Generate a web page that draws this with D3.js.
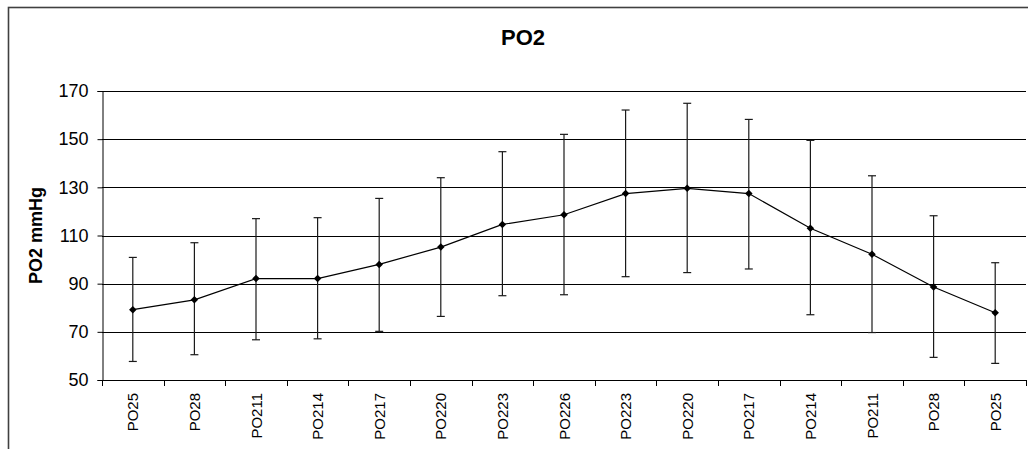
<!DOCTYPE html>
<html>
<head>
<meta charset="utf-8">
<script src="https://cdn.jsdelivr.net/npm/d3@7"></script>
<style>
	body { margin: 0; background: #ffffff; }
	svg { display: block; font-family: "Liberation Sans", Arial, sans-serif; }
</style>
</head>
<body>
<div id="div_id_main"></div>
<script>

var vCategory = ["PO25", "PO28", "PO211", "PO214", "PO217", "PO220", "PO223", "PO226",
				 "PO223", "PO220", "PO217", "PO214", "PO211", "PO28", "PO25"];

var vMean  = [79.2, 83.3, 92.1, 92.1, 98.0, 105.2, 114.6, 118.6, 127.4, 129.6, 127.4, 113.0, 102.2, 88.6, 77.9];
var vUpper = [100.9, 107.0, 117.0, 117.4, 125.4, 134.0, 144.8, 152.0, 162.1, 164.9, 158.2, 149.5, 134.8, 118.2, 98.7];
var vLower = [57.7, 60.5, 66.7, 67.1, 70.2, 76.4, 85.0, 85.4, 92.9, 94.6, 96.1, 77.1, 69.7, 59.4, 56.9];

var vYTicks = [50, 70, 90, 110, 130, 150, 170];

var sTitle = "PO2";
var sYTitle = "PO2 mmHg";

var WIDTH = 1028;
var HEIGHT = 449;

var PLOT_LEFT = 102;
var PLOT_RIGHT = 1026;
var PLOT_TOP = 91;
var PLOT_BOTTOM = 380;

var fScale_X;
var fScale_Y;

function funcDraw_Main() {

	let svgMain = d3.select("#div_id_main")
					.append("svg")
						.attr("width", WIDTH)
						.attr("height", HEIGHT);

	// chart frame (right and bottom edges fall outside the picture)
	svgMain.append("rect")
				.attr("x", 8.5)
				.attr("y", 7.5)
				.attr("width", WIDTH + 20)
				.attr("height", HEIGHT + 20)
				.attr("fill", "#ffffff")
				.attr("stroke", "#404040")
				.attr("stroke-width", 1.6);

	fScale_X = d3.scaleBand()
					.domain(d3.range(vCategory.length))
					.range([PLOT_LEFT, PLOT_RIGHT]);

	fScale_Y = d3.scaleLinear()
					.domain([50, 170])
					.range([PLOT_BOTTOM, PLOT_TOP]);

	funcDraw_Grid(svgMain);
	funcDraw_Axes(svgMain);
	funcDraw_ErrorBars(svgMain);
	funcDraw_Line(svgMain);
	funcDraw_Titles(svgMain);
}

function funcDraw_Grid(svgMain) {

	svgMain.append("g")
				.selectAll("line")
				.data(vYTicks.filter(function (d) { return d > 50; }))
				.enter()
				.append("line")
					.attr("x1", PLOT_LEFT)
					.attr("x2", PLOT_RIGHT)
					.attr("y1", function (d) { return Math.round(fScale_Y(d)) + 0.5; })
					.attr("y2", function (d) { return Math.round(fScale_Y(d)) + 0.5; })
					.attr("stroke", "#000000")
					.attr("stroke-width", 1);
}

function funcDraw_Axes(svgMain) {

	let axisY = d3.axisLeft(fScale_Y)
					.tickValues(vYTicks)
					.tickSize(5)
					.tickPadding(9);

	let gY = svgMain.append("g")
				.attr("transform", "translate(" + (PLOT_LEFT + 0.5) + ",0)")
				.call(axisY);

	gY.select(".domain").attr("stroke", "#000000");
	gY.selectAll(".tick line").attr("stroke", "#000000");
	gY.selectAll(".tick text")
			.attr("font-family", "Liberation Sans, Arial, sans-serif")
			.attr("font-size", "18px")
			.attr("fill", "#000000");

	// category ticks sit on band edges
	let vEdges = d3.range(vCategory.length + 1).map(function (i) { return PLOT_LEFT + i * fScale_X.step(); });

	let gX = svgMain.append("g");

	gX.append("line")
			.attr("x1", PLOT_LEFT)
			.attr("x2", PLOT_RIGHT)
			.attr("y1", PLOT_BOTTOM + 0.5)
			.attr("y2", PLOT_BOTTOM + 0.5)
			.attr("stroke", "#000000");

	gX.selectAll("line.line_class_xtick")
			.data(vEdges)
			.enter()
			.append("line")
				.attr("class", "line_class_xtick")
				.attr("x1", function (d) { return Math.round(d) + 0.5; })
				.attr("x2", function (d) { return Math.round(d) + 0.5; })
				.attr("y1", PLOT_BOTTOM)
				.attr("y2", PLOT_BOTTOM + 6)
				.attr("stroke", "#000000");

	gX.selectAll("text")
			.data(vCategory)
			.enter()
			.append("text")
				.attr("transform", function (d, i) {
					return "translate(" + (fScale_X(i) + fScale_X.bandwidth() / 2 + 5.5) + "," + (PLOT_BOTTOM + 13) + ") rotate(-90)"; })
				.attr("text-anchor", "end")
				.attr("font-size", "15px")
				.attr("fill", "#000000")
				.text(function (d) { return d; });
}

function funcDraw_ErrorBars(svgMain) {

	let nCap = 4;

	let gErr = svgMain.append("g")
					.attr("stroke", "#1a1a1a")
					.attr("stroke-width", 1.2);

	for (let i = 0; i < vCategory.length; i++) {

		let x = fScale_X(i) + fScale_X.bandwidth() / 2;

		gErr.append("line")
				.attr("x1", x).attr("x2", x)
				.attr("y1", fScale_Y(vUpper[i]))
				.attr("y2", fScale_Y(vLower[i]));

		gErr.append("line")
				.attr("x1", x - nCap).attr("x2", x + nCap)
				.attr("y1", fScale_Y(vUpper[i]))
				.attr("y2", fScale_Y(vUpper[i]));

		gErr.append("line")
				.attr("x1", x - nCap).attr("x2", x + nCap)
				.attr("y1", fScale_Y(vLower[i]))
				.attr("y2", fScale_Y(vLower[i]));
	}
}

function funcDraw_Line(svgMain) {

	let line = d3.line()
					.x(function (d, i) { return fScale_X(i) + fScale_X.bandwidth() / 2; })
					.y(function (d) { return fScale_Y(d); });

	svgMain.append("path")
				.datum(vMean)
				.attr("d", line)
				.attr("fill", "none")
				.attr("stroke", "#000000")
				.attr("stroke-width", 1.2);

	let symbol = d3.symbol().type(d3.symbolDiamond2).size(36);

	svgMain.append("g")
				.selectAll("path")
				.data(vMean)
				.enter()
				.append("path")
					.attr("d", symbol)
					.attr("transform", function (d, i) {
						return "translate(" + (fScale_X(i) + fScale_X.bandwidth() / 2) + "," + fScale_Y(d) + ")"; })
					.attr("fill", "#000000");
}

function funcDraw_Titles(svgMain) {

	svgMain.append("text")
				.attr("x", 523)
				.attr("y", 45)
				.attr("text-anchor", "middle")
				.attr("font-size", "22px")
				.attr("font-weight", "bold")
				.attr("fill", "#000000")
				.text(sTitle);

	svgMain.append("text")
				.attr("transform", "translate(42," + ((PLOT_TOP + PLOT_BOTTOM) / 2) + ") rotate(-90)")
				.attr("text-anchor", "middle")
				.attr("font-size", "18px")
				.attr("font-weight", "bold")
				.attr("fill", "#000000")
				.text(sYTitle);
}

funcDraw_Main();

</script>
</body>
</html>
